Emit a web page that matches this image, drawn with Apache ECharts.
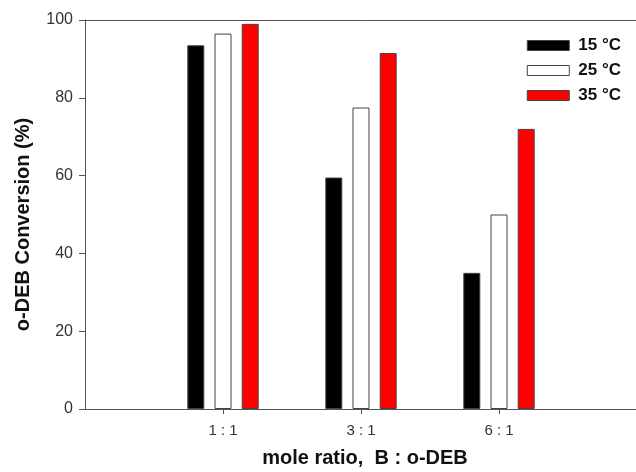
<!DOCTYPE html>
<html><head><meta charset="utf-8">
<script src="https://cdn.jsdelivr.net/npm/echarts@6/dist/echarts.min.js"></script>
<style>html,body{margin:0;padding:0;background:#fff}#c{width:636px;height:472px}</style>
</head><body><div id="c"></div>
<script>
const categories = ['', '1 : 1', '3 : 1', '6 : 1', ''];
const seriesNames = ['15 \u00B0C', '25 \u00B0C', '35 \u00B0C'];
const s15 = [null, 93.5, 59.5, 35.0, null];
const s25 = [null, 96.5, 77.5, 50.0, null];
const s35 = [null, 99.0, 91.5, 72.0, null];
const yTicks = [0, 20, 40, 60, 80, 100];

const colors = ['#000000', '#ffffff', '#ff0000'];
const font = 'Liberation Sans, Arial, sans-serif';
const chart = echarts.init(document.getElementById('c'), null, {renderer: 'canvas'});
const mk = (name, data, color) => ({
  name, type: 'bar', data, barWidth: 17, barGap: '60%',
  itemStyle: {color, borderColor: '#444', borderWidth: 1}
});
chart.setOption({
  animation: false,
  backgroundColor: '#fff',
  grid: {left: 85, right: -1, top: 20, bottom: 63, outerBoundsMode: 'none', containLabel: false},
  legend: {
    right: 10, top: 32, orient: 'vertical', itemWidth: 42, itemHeight: 10, itemGap: 8,
    icon: 'rect',
    data: seriesNames,
    textStyle: {fontFamily: font, fontSize: 17, fontWeight: 'bold', color: '#111', padding: [0, 0, 0, 4]},
    itemStyle: {borderColor: '#444', borderWidth: 1}
  },
  xAxis: [{
    type: 'category', data: categories, boundaryGap: false,
    name: 'mole ratio,  B : o-DEB', nameLocation: 'middle', nameGap: 39,
    nameTextStyle: {fontFamily: font, fontSize: 20, fontWeight: 'bold', color: '#111', padding: [0, 0, 0, 8]},
    axisLine: {lineStyle: {color: '#555', width: 1}},
    axisTick: {length: 5, lineStyle: {color: '#555'}, interval: (i) => categories[i] !== ''},
    axisLabel: {fontFamily: font, fontSize: 15, color: '#333', margin: 14, interval: 0},
    splitLine: {show: false}
  }, {
    type: 'category', data: categories, boundaryGap: false, position: 'top',
    axisLine: {show: true, lineStyle: {color: '#555', width: 1}},
    axisTick: {show: false}, axisLabel: {show: false}, splitLine: {show: false}
  }],
  yAxis: {
    type: 'value', min: yTicks[0], max: yTicks[yTicks.length - 1], interval: 20,
    name: 'o-DEB Conversion (%)', nameLocation: 'middle', nameGap: 52,
    nameTextStyle: {fontFamily: font, fontSize: 20, fontWeight: 'bold', color: '#111', padding: [0, 20, 0, 0]},
    axisLine: {show: true, lineStyle: {color: '#555', width: 1}},
    axisTick: {show: true, length: 6, lineStyle: {color: '#555'}},
    axisLabel: {fontFamily: font, fontSize: 16, color: '#333', margin: 12},
    splitLine: {show: false}
  },
  series: [mk(seriesNames[0], s15, colors[0]), mk(seriesNames[1], s25, colors[1]), mk(seriesNames[2], s35, colors[2])]
});
</script></body></html>
